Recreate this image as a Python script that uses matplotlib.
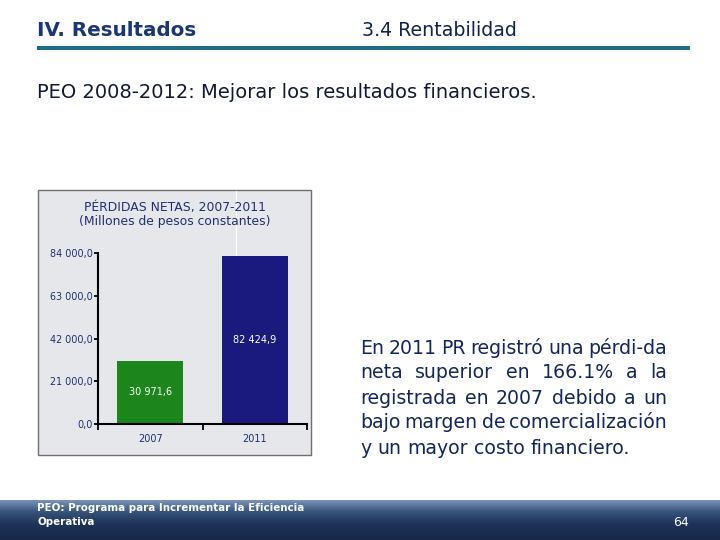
import numpy as np
import matplotlib
matplotlib.use("Agg")
import matplotlib.pyplot as plt
from matplotlib.patches import Rectangle
from matplotlib.colors import LinearSegmentedColormap

# data
years = ["2007", "2011"]
losses = [30971.6, 82424.9]
bar_labels = ["30 971,6", "82 424,9"]
bar_colors = ["#1c861c", "#1a1a7e"]
yticks = [0, 21000, 42000, 63000, 84000]
ytick_labels = ["0,0", "21 000,0", "42 000,0", "63 000,0", "84 000,0"]

paragraph = [
    "En 2011 PR registró una pérdi-da",
    "neta superior en 166.1% a la",
    "registrada en 2007 debido a un",
    "bajo margen de comercialización",
    "y un mayor costo financiero.",
]

W, H = 720, 540
fig = plt.figure(figsize=(7.2, 5.4), dpi=100)
fig.patch.set_facecolor("white")

# overlay in pixel coords
bg = fig.add_axes([0, 0, 1, 1])
bg.axis("off")

# header
bg.text(37, 30, "IV. Resultados", fontsize=14.3, fontweight="bold", color="#1b3575",
        va="center", ha="left")
bg.text(362, 30, "3.4 Rentabilidad", fontsize=13.7, color="#14234a", va="center", ha="left")
bg.add_patch(Rectangle((37, 45.5), 653, 4, color="#1f6c88", lw=0))
bg.text(37, 93, "PEO 2008-2012: Mejorar los resultados financieros.", fontsize=14,
        color="#111a33", va="center", ha="left")

# chart panel
bg.add_patch(Rectangle((38, 190), 273, 265, facecolor="#e6e7eb", edgecolor="#707070", lw=1))
bg.plot([236, 236], [191, 257], color="white", lw=0.8)
bg.text(175, 207, "PÉRDIDAS NETAS, 2007-2011", fontsize=8.9, color="#1f2f70",
        ha="center", va="center")
bg.text(175, 221, "(Millones de pesos constantes)", fontsize=8.9, color="#1f2f70",
        ha="center", va="center")

# footer gradient
grad = np.linspace(0, 1, 100).reshape(-1, 1)
cmap = LinearSegmentedColormap.from_list("foot", [(0, "#7894bb"), (0.3, "#35527a"),
                                                  (0.6, "#1e3357"), (1, "#172848")])
bg.imshow(grad, cmap=cmap, aspect="auto", extent=(0, W, 540, 500), zorder=0)
bg.set_xlim(0, W)
bg.set_ylim(H, 0)
bg.text(37, 508, "PEO: Programa para Incrementar la Eficiencia", fontsize=7.4,
        color="white", fontweight="bold", va="center", ha="left")
bg.text(37, 522, "Operativa", fontsize=7.4, color="white", fontweight="bold",
        va="center", ha="left")
bg.text(689, 523, "64", fontsize=9, color="white", va="center", ha="right")

# justified paragraph
renderer = fig.canvas.get_renderer()
fs = 13.6
x0, x1 = 360, 667
line_y = [348, 373, 398, 423, 449]
probe = bg.text(0, 0, "a a", fontsize=fs)
probe1 = bg.text(0, 0, "aa", fontsize=fs)
space = probe.get_window_extent(renderer).width - probe1.get_window_extent(renderer).width
probe.remove()
probe1.remove()
for i, (line, y) in enumerate(zip(paragraph, line_y)):
    words = line.split(" ")
    objs = [bg.text(0, y, w, fontsize=fs, color="#15275a", va="center", ha="left")
            for w in words]
    widths = [o.get_window_extent(renderer).width for o in objs]
    if i == len(paragraph) - 1:
        gap = space
    else:
        gap = (x1 - x0 - sum(widths)) / (len(words) - 1)
    x = x0
    for o, w in zip(objs, widths):
        o.set_x(x)
        x += w + gap

# bar chart
left, right, top, bottom = 98, 307, 253, 424
ax = fig.add_axes([left / W, 1 - bottom / H, (right - left) / W, (bottom - top) / H])
ax.patch.set_alpha(0)
xpos = np.arange(len(years))
bars = ax.bar(xpos, losses, width=0.63, color=bar_colors, zorder=2)
for b, lab in zip(bars, bar_labels):
    ax.text(b.get_x() + b.get_width() / 2, b.get_height() / 2, lab, color="white",
            fontsize=7, ha="center", va="center")
ax.set_xlim(-0.5, 1.5)
ax.set_ylim(0, 84000)
ax.set_yticks(yticks)
ax.set_yticklabels(ytick_labels)
ax.set_xticks(xpos)
ax.set_xticklabels(years)
ax.set_xticks([-0.5, 0.5, 1.5], minor=True)
ax.tick_params(axis="x", which="major", length=0, pad=7, labelsize=7, labelcolor="#1f2f6a")
ax.tick_params(axis="x", which="minor", length=4, width=1.3, direction="out")
ax.tick_params(axis="y", length=3, width=1.3, pad=0.5, labelsize=6.9, labelcolor="#1f2f6a")
for s in ["top", "right"]:
    ax.spines[s].set_visible(False)
for s in ["left", "bottom"]:
    ax.spines[s].set_linewidth(1.5)

fig.savefig("out.png", dpi=100)
